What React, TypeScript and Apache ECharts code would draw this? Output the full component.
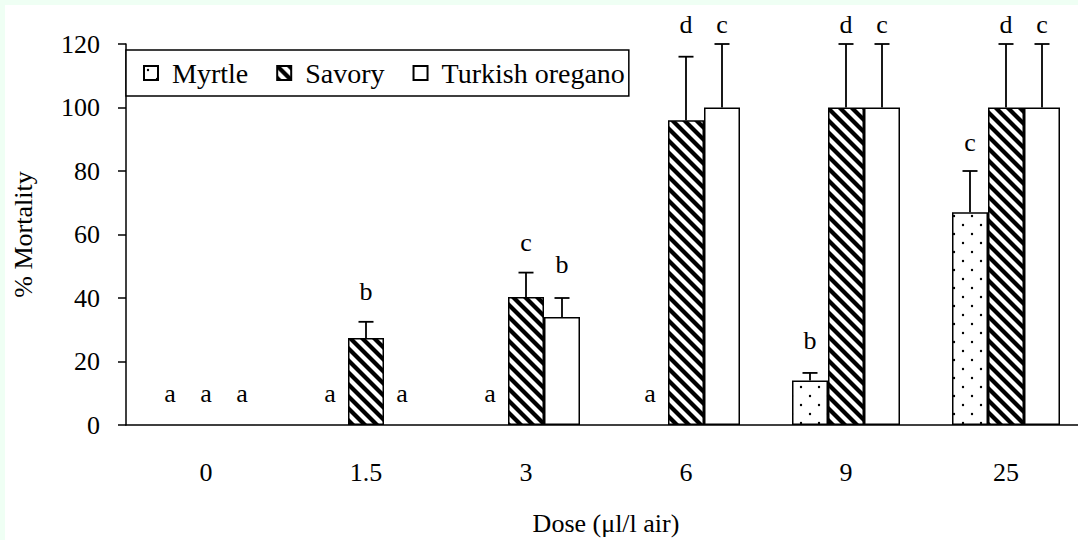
import React, { useEffect, useRef } from "react";
import * as echarts from "echarts";

const doses = ["0", "1.5", "3", "6", "9", "25"];
const seriesNames = ["Myrtle", "Savory", "Turkish oregano"];
const myrtle = [0, 0, 0, 0, 14, 67];
const savory = [0, 27.4, 40.3, 96, 100, 100];
const oregano = [0, 0, 34, 100, 100, 100];
const myrtleErrTop = [0, 0, 0, 0, 16.4, 80];
const savoryErrTop = [0, 32.5, 48, 116, 120, 120];
const oreganoErrTop = [0, 0, 40, 120, 120, 120];
const myrtleLetters = ["a", "a", "a", "a", "b", "c"];
const savoryLetters = ["a", "b", "c", "d", "d", "d"];
const oreganoLetters = ["a", "a", "b", "c", "c", "c"];
const myrtleLetterAt = [10, 10, 10, 10, 26.5, 89];
const savoryLetterAt = [10, 42, 57.5, 126, 126, 126];
const oreganoLetterAt = [10, 10, 50.5, 126, 126, 126];
const yTicks = { min: 0, max: 120, interval: 20 };

const FONT = "Liberation Serif";
const BAR_W = 36;

function hatchURL(): string {
  const c = document.createElement("canvas");
  c.width = 12;
  c.height = 12;
  const g = c.getContext("2d")!;
  g.fillStyle = "#fff";
  g.fillRect(0, 0, 12, 12);
  g.strokeStyle = "#000";
  g.lineWidth = 4.2;
  for (const o of [-12, 0, 12]) {
    g.beginPath();
    g.moveTo(o - 2, -2);
    g.lineTo(o + 14, 14);
    g.stroke();
  }
  return c.toDataURL();
}

function dotURL(): string {
  const c = document.createElement("canvas");
  c.width = 18;
  c.height = 18;
  const g = c.getContext("2d")!;
  g.fillStyle = "#fff";
  g.fillRect(0, 0, 18, 18);
  g.fillStyle = "#000";
  for (const [x, y] of [[4, 4], [13, 13]]) {
    g.beginPath();
    g.arc(x, y, 1.2, 0, Math.PI * 2);
    g.fill();
  }
  return c.toDataURL();
}

export default function App() {
  const ref = useRef<HTMLDivElement>(null);
  useEffect(() => {
    if (!ref.current) return;
    const chart = echarts.init(ref.current, undefined, { renderer: "svg" });

    const hatch = { image: hatchURL(), repeat: "repeat", imageWidth: 12, imageHeight: 12 };
    const dots = { image: dotURL(), repeat: "repeat", imageWidth: 18, imageHeight: 18 };

    const values = [myrtle, savory, oregano];
    const errTops = [myrtleErrTop, savoryErrTop, oreganoErrTop];
    const letters = [myrtleLetters, savoryLetters, oreganoLetters];
    const letterAt = [myrtleLetterAt, savoryLetterAt, oreganoLetterAt];
    const fills: any[] = [dots, hatch, "#ffffff"];

    const errData: number[][] = [];
    values.forEach((vals, s) => {
      vals.forEach((v, i) => {
        if (errTops[s][i] > v) errData.push([i, v, errTops[s][i], s]);
      });
    });
    const letterItems: { text: string }[] = [];
    const letterData: number[][] = [];
    letters.forEach((arr, s) => {
      arr.forEach((t, i) => {
        letterItems.push({ text: t });
        letterData.push([i, letterAt[s][i], s]);
      });
    });

    const option: any = {
      animation: false,
      backgroundColor: "#ffffff",
      textStyle: { fontFamily: FONT },
      grid: { left: 121, top: 39, width: 960, height: 381, outerBoundsMode: "none", containLabel: false },
      legend: {
        left: 121,
        top: 45,
        data: seriesNames,
        icon: "rect",
        itemWidth: 14,
        itemHeight: 14,
        itemGap: 28,
        padding: [9, 4, 9, 17],
        borderColor: "#000",
        borderWidth: 1.5,
        backgroundColor: "#fff",
        borderRadius: 0,
        textStyle: { fontFamily: FONT, fontSize: 28, color: "#000", padding: [0, 0, 0, 9] },
      },
      xAxis: {
        type: "category",
        data: doses,
        name: "Dose (μl/l air)",
        nameLocation: "middle",
        nameGap: 85,
        nameTextStyle: { fontFamily: FONT, fontSize: 26, color: "#000" },
        axisLine: { lineStyle: { color: "#000", width: 1.5 } },
        axisTick: { length: 9, lineStyle: { color: "#000", width: 1.5 } },
        axisLabel: { margin: 34, fontFamily: FONT, fontSize: 26, color: "#000" },
      },
      yAxis: {
        type: "value",
        min: yTicks.min,
        max: yTicks.max,
        interval: yTicks.interval,
        name: "% Mortality",
        nameLocation: "middle",
        nameGap: 90,
        nameTextStyle: { fontFamily: FONT, fontSize: 26, color: "#000" },
        axisLine: { show: true, lineStyle: { color: "#000", width: 1.5 } },
        axisTick: { show: true, length: 8, lineStyle: { color: "#000", width: 1.5 } },
        axisLabel: { margin: 26, fontFamily: FONT, fontSize: 26, color: "#000" },
        splitLine: { show: false },
      },
      series: [
        ...values.map((vals, s) => ({
          name: seriesNames[s],
          type: "bar",
          data: vals.map((v) => (v > 0 ? v : "-")),
          barWidth: BAR_W,
          barGap: "0%",
          itemStyle: { color: fills[s], borderColor: "#000", borderWidth: 1.5 },
          emphasis: { disabled: true },
        })),
        {
          type: "custom",
          name: "err",
          data: errData,
          encode: { x: 0, y: [1, 2] },
          silent: true,
          z: 5,
          renderItem: (params: any, api: any) => {
            const cat = api.value(0);
            const s = api.value(3);
            const cx = api.coord([cat, 0])[0] + (s - 1) * BAR_W;
            const yBase = api.coord([cat, api.value(1)])[1];
            const yTop = api.coord([cat, api.value(2)])[1];
            const st = { stroke: "#000", lineWidth: 1.8 };
            return {
              type: "group",
              children: [
                { type: "line", shape: { x1: cx, y1: yBase, x2: cx, y2: yTop }, style: st },
                { type: "line", shape: { x1: cx - 7.5, y1: yTop, x2: cx + 7.5, y2: yTop }, style: st },
              ],
            };
          },
        },
        {
          type: "custom",
          name: "letters",
          data: letterData,
          encode: { x: 0, y: 1 },
          silent: true,
          z: 6,
          renderItem: (params: any, api: any) => {
            const cat = api.value(0);
            const s = api.value(2);
            const cx = api.coord([cat, 0])[0] + (s - 1) * BAR_W;
            const y = api.coord([cat, api.value(1)])[1];
            return {
              type: "text",
              x: cx,
              y: y,
              style: {
                text: letterItems[params.dataIndex].text,
                fill: "#000",
                fontFamily: FONT,
                fontSize: 26,
                align: "center",
                verticalAlign: "middle",
              },
            };
          },
        },
      ],
    };
    chart.setOption(option);
    return () => chart.dispose();
  }, []);

  return (
    <div style={{ position: "fixed", left: 0, top: 0, width: 1078, height: 540, background: "#effff4", overflow: "hidden" }}>
      <div
        ref={ref}
        style={{ position: "absolute", left: 5, top: 5, width: 1073, height: 535, background: "#fff" }}
      />
    </div>
  );
}
